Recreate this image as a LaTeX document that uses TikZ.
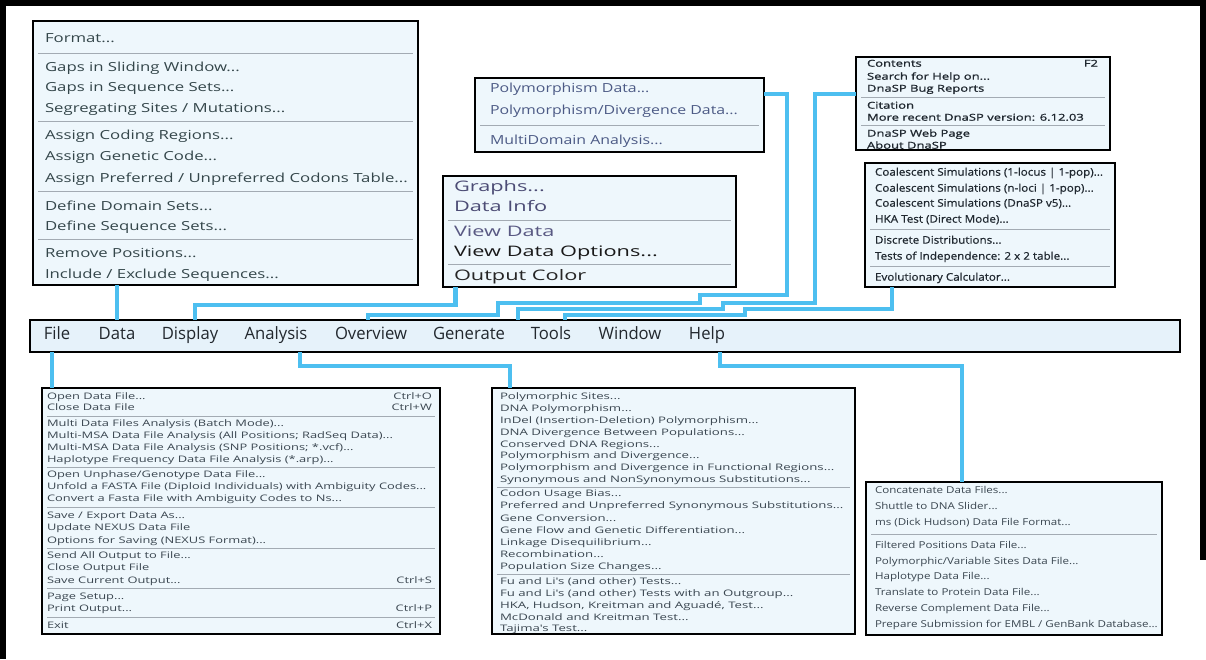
\documentclass[tikz,border=0pt]{standalone}
\usepackage{fontspec}
\setmainfont{Open Sans}
\newfontfamily\fontData[FakeStretch=1.34]{Open Sans}
\newfontfamily\fontPoly[FakeStretch=1.27]{Open Sans}
\newfontfamily\fontDisp[FakeStretch=1.50]{Open Sans}
\newfontfamily\fontHelp[FakeStretch=1.37, FakeBold=1.2]{Open Sans}
\newfontfamily\fontTools[FakeStretch=1.11, FakeBold=0.7]{Open Sans}
\newfontfamily\fontFile[FakeStretch=1.43]{Open Sans}
\newfontfamily\fontAna[FakeStretch=1.47]{Open Sans}
\newfontfamily\fontGen[FakeStretch=1.22]{Open Sans}
\newfontfamily\fontBar[FakeStretch=0.98]{Open Sans}
\usepackage{tikz}

\definecolor{menufill}{HTML}{EEF7FC}
\definecolor{barfill}{HTML}{E6F2FA}
\definecolor{linkblue}{HTML}{4DBFF0}
\definecolor{sepgray}{HTML}{A3ABB3}
\definecolor{itemtext}{HTML}{3A4650}
\definecolor{datatext}{HTML}{34464A}
\definecolor{polytext}{HTML}{4C5A85}
\definecolor{darktext}{HTML}{202830}
\definecolor{bartext}{HTML}{22282E}

\tikzset{
  menubox/.style={draw=black, line width=1.6pt, fill=menufill, inner sep=0pt,
    outer sep=0pt, anchor=north west},
  item/.style={inner sep=0pt, outer sep=0pt, anchor=mid west, text=itemtext},
  key/.style={item, anchor=mid east},
  sepline/.style={draw=sepgray, line width=0.9pt},
  link/.style={draw=linkblue, line width=4.5pt},
  frameline/.style={line width=6pt},
  baritem/.style={inner sep=0pt, outer sep=0pt, anchor=mid, text=bartext,
    font=\fontBar\fontsize{17}{20}\selectfont},
  fData/.style={font=\fontData\fontsize{12.5}{15}\selectfont, text=datatext},
  fPoly/.style={font=\fontPoly\fontsize{12.5}{15}\selectfont, text=polytext},
  fDisp/.style={font=\fontDisp\fontsize{14.5}{17}\selectfont},
  fHelp/.style={font=\fontHelp\fontsize{9.5}{11}\selectfont, text=darktext},
  fTools/.style={font=\fontTools\fontsize{10.5}{12}\selectfont, text=darktext},
  fFile/.style={font=\fontFile\fontsize{9}{11}\selectfont},
  fAna/.style={font=\fontAna\fontsize{9}{11}\selectfont},
  fGen/.style={font=\fontGen\fontsize{9.5}{11}\selectfont}
}

\begin{document}
\begin{tikzpicture}[x=1pt, y=-1pt]
  \useasboundingbox (0,0) rectangle (1206,659);
  % outer frame (open at the bottom)
  \draw[frameline] (3,659) -- (3,3) -- (1203,3) -- (1203,560);

  % menu boxes
  \node[menubox, minimum width=385, minimum height=264] (dataMenu) at (33,21) {};
  \node[menubox, minimum width=289, minimum height=74] (polyMenu) at (475,78) {};
  \node[menubox, minimum width=293, minimum height=111] (dispMenu) at (443,176) {};
  \node[menubox, minimum width=254, minimum height=93] (helpMenu) at (856,57) {};
  \node[menubox, minimum width=250, minimum height=124] (toolsMenu) at (865,163) {};
  \node[menubox, fill=barfill, minimum width=1150, minimum height=32] (bar) at (30,320) {};
  \node[menubox, minimum width=398, minimum height=246] (fileMenu) at (42,388) {};
  \node[menubox, minimum width=363, minimum height=246] (anaMenu) at (492,388) {};
  \node[menubox, minimum width=296, minimum height=153] (genMenu) at (866,482) {};

  % menu bar
  \foreach \x/\t in {57/File, 117/Data, 190/Display, 276/Analysis, 371/Overview,
      469/Generate, 551/Tools, 630/Window, 707/Help}
    \node[baritem] (m\t) at (\x,337) {\t};

  % Data
  \foreach \y/\t [count=\i] in {40/{Format...}, 69/{Gaps in Sliding Window...},
      89/{Gaps in Sequence Sets...}, 110/{Segregating Sites / Mutations...},
      137/{Assign Coding Regions...}, 158/{Assign Genetic Code...},
      180/{Assign Preferred / Unpreferred Codons Table...},
      208/{Define Domain Sets...}, 228/{Define Sequence Sets...},
      255/{Remove Positions...}, 276/{Include / Exclude Sequences...}}
    \node[item, fData] (d\i) at (45,\y) {\t};
  \foreach \y in {53,121,191,239} \draw[sepline] (38,\y) -- (413,\y);

  % Overview
  \foreach \y/\t [count=\i] in {90/{Polymorphism Data...},
      112/{Polymorphism/Divergence Data...}, 142/{MultiDomain Analysis...}}
    \node[item, fPoly] (p\i) at (490,\y) {\t};
  \draw[sepline] (480,125) -- (759,125);

  % Display
  \node[item, fDisp, text=black!60!blue!40!gray] (g1) at (454,189) {Graphs...};
  \node[item, fDisp, text=black!60!blue!40!gray] (g2) at (454,209) {Data Info};
  \node[item, fDisp, text=black!45!blue!30!gray] (g3) at (454,234) {View Data};
  \node[item, fDisp, text=black!90] (g4) at (454,254) {View Data Options...};
  \node[item, fDisp, text=black!85] (g5) at (454,278) {Output Color};
  \foreach \y in {220,264} \draw[sepline] (448,\y) -- (731,\y);

  % Help
  \foreach \y/\t [count=\i] in {64/{Contents}, 77/{Search for Help on...},
      89/{DnaSP Bug Reports}, 106/{Citation}, 118/{More recent DnaSP version: 6.12.03},
      134/{DnaSP Web Page}, 146/{About DnaSP}}
    \node[item, fHelp] (h\i) at (867,\y) {\t};
  \node[key, fHelp] (hKey) at (1098,64) {F2};
  \foreach \y in {97,125} \draw[sepline] (861,\y) -- (1105,\y);

  % Tools
  \foreach \y/\t [count=\i] in {173/{Coalescent Simulations (1-locus | 1-pop)...},
      189/{Coalescent Simulations (n-loci | 1-pop)...},
      204/{Coalescent Simulations (DnaSP v5)...}, 220/{HKA Test (Direct Mode)...},
      241/{Discrete Distributions...}, 257/{Tests of Independence: 2 x 2 table...},
      278/{Evolutionary Calculator...}}
    \node[item, fTools] (t\i) at (875,\y) {\t};
  \foreach \y in {229,266} \draw[sepline] (870,\y) -- (1110,\y);

  % File
  \foreach \y/\t [count=\i] in {397/{Open Data File...}, 408/{Close Data File},
      424/{Multi Data Files Analysis (Batch Mode)...},
      436/{Multi-MSA Data File Analysis (All Positions; RadSeq Data)...},
      448/{Multi-MSA Data File Analysis (SNP Positions; *.vcf)...},
      460/{Haplotype Frequency Data File Analysis (*.arp)...},
      475/{Open Unphase/Genotype Data File...},
      487/{Unfold a FASTA File (Diploid Individuals) with Ambiguity Codes...},
      499/{Convert a Fasta File with Ambiguity Codes to Ns...},
      516/{Save / Export Data As...}, 528/{Update NEXUS Data File},
      541/{Options for Saving (NEXUS Format)...}, 556/{Send All Output to File...},
      568/{Close Output File}, 581/{Save Current Output...}, 597/{Page Setup...},
      609/{Print Output...}, 626/{Exit}}
    \node[item, fFile] (f\i) at (47,\y) {\t};
  \foreach \y/\t [count=\i] in {397/Ctrl+O, 408/Ctrl+W, 581/Ctrl+S, 609/Ctrl+P, 626/Ctrl+X}
    \node[key, fFile] (fk\i) at (432,\y) {\t};
  \foreach \y in {416,467,507,548,588,617} \draw[sepline] (47,\y) -- (435,\y);

  % Analysis
  \foreach \y/\t [count=\i] in {397/{Polymorphic Sites...}, 409/{DNA Polymorphism...},
      421/{InDel (Insertion-Deletion) Polymorphism...},
      433/{DNA Divergence Between Populations...}, 445/{Conserved DNA Regions...},
      456/{Polymorphism and Divergence...},
      468/{Polymorphism and Divergence in Functional Regions...},
      480/{Synonymous and NonSynonymous Substitutions...}, 494/{Codon Usage Bias...},
      506/{Preferred and Unpreferred Synonymous Substitutions...},
      519/{Gene Conversion...}, 531/{Gene Flow and Genetic Differentiation...},
      543/{Linkage Disequilibrium...}, 555/{Recombination...},
      567/{Population Size Changes...}, 582/{Fu and Li's (and other) Tests...},
      594/{Fu and Li's (and other) Tests with an Outgroup...},
      606/{HKA, Hudson, Kreitman and Aguadé, Test...},
      618/{McDonald and Kreitman Test...}, 629/{Tajima's Test...}}
    \node[item, fAna] (a\i) at (500,\y) {\t};
  \foreach \y in {487,574} \draw[sepline] (497,\y) -- (850,\y);

  % Generate
  \foreach \y/\t [count=\i] in {491/{Concatenate Data Files...}, 507/{Shuttle to DNA Slider...},
      523/{ms (Dick Hudson) Data File Format...}, 546/{Filtered Positions Data File...},
      562/{Polymorphic/Variable Sites Data File...}, 577/{Haplotype Data File...},
      593/{Translate to Protein Data File...}, 609/{Reverse Complement Data File...},
      625/{Prepare Submission for EMBL / GenBank Database...}}
    \node[item, fGen] (n\i) at (875,\y) {\t};
  \draw[sepline] (871,534) -- (1157,534);

  % connectors above the bar
  \draw[link] (dataMenu.south -| mData) -- (mData |- bar.north);
  \draw[link] ([xshift=-134pt]dispMenu.south) -- ++(0,18)
    -| ([xshift=5pt]mDisplay |- bar.north);
  \draw[link] ([yshift=21pt]polyMenu.east) -- ++(23,0) -- ++(0,201) -- ++(-87,0)
    -- ++(0,8) -- ++(-202,0) -- ++(0,12) -| ([xshift=-3pt]mOverview |- bar.north);
  \draw[link] ([yshift=9.5pt]helpMenu.west) -- ++(-41,0) -- ++(0,209) -- ++(-92,0)
    -- ++(0,6) -| ([xshift=-33pt]mTools |- bar.north);
  \draw[link] ([xshift=-98pt]toolsMenu.south) -- ++(0,22) -- ++(-147,0)
    -- ++(0,6) -| ([xshift=14pt]mTools |- bar.north);

  % connectors below the bar
  \draw[link] ([xshift=-5pt]mFile |- bar.south) -- ([xshift=-5pt]mFile |- fileMenu.north);
  \draw[link] ([xshift=24pt]mAnalysis |- bar.south) -- ++(0,14)
    -| ([xshift=-163.5pt]anaMenu.north);
  \draw[link] ([xshift=13pt]mHelp |- bar.south) -- ++(0,14)
    -| ([xshift=-52pt]genMenu.north);

\end{tikzpicture}
\end{document}
